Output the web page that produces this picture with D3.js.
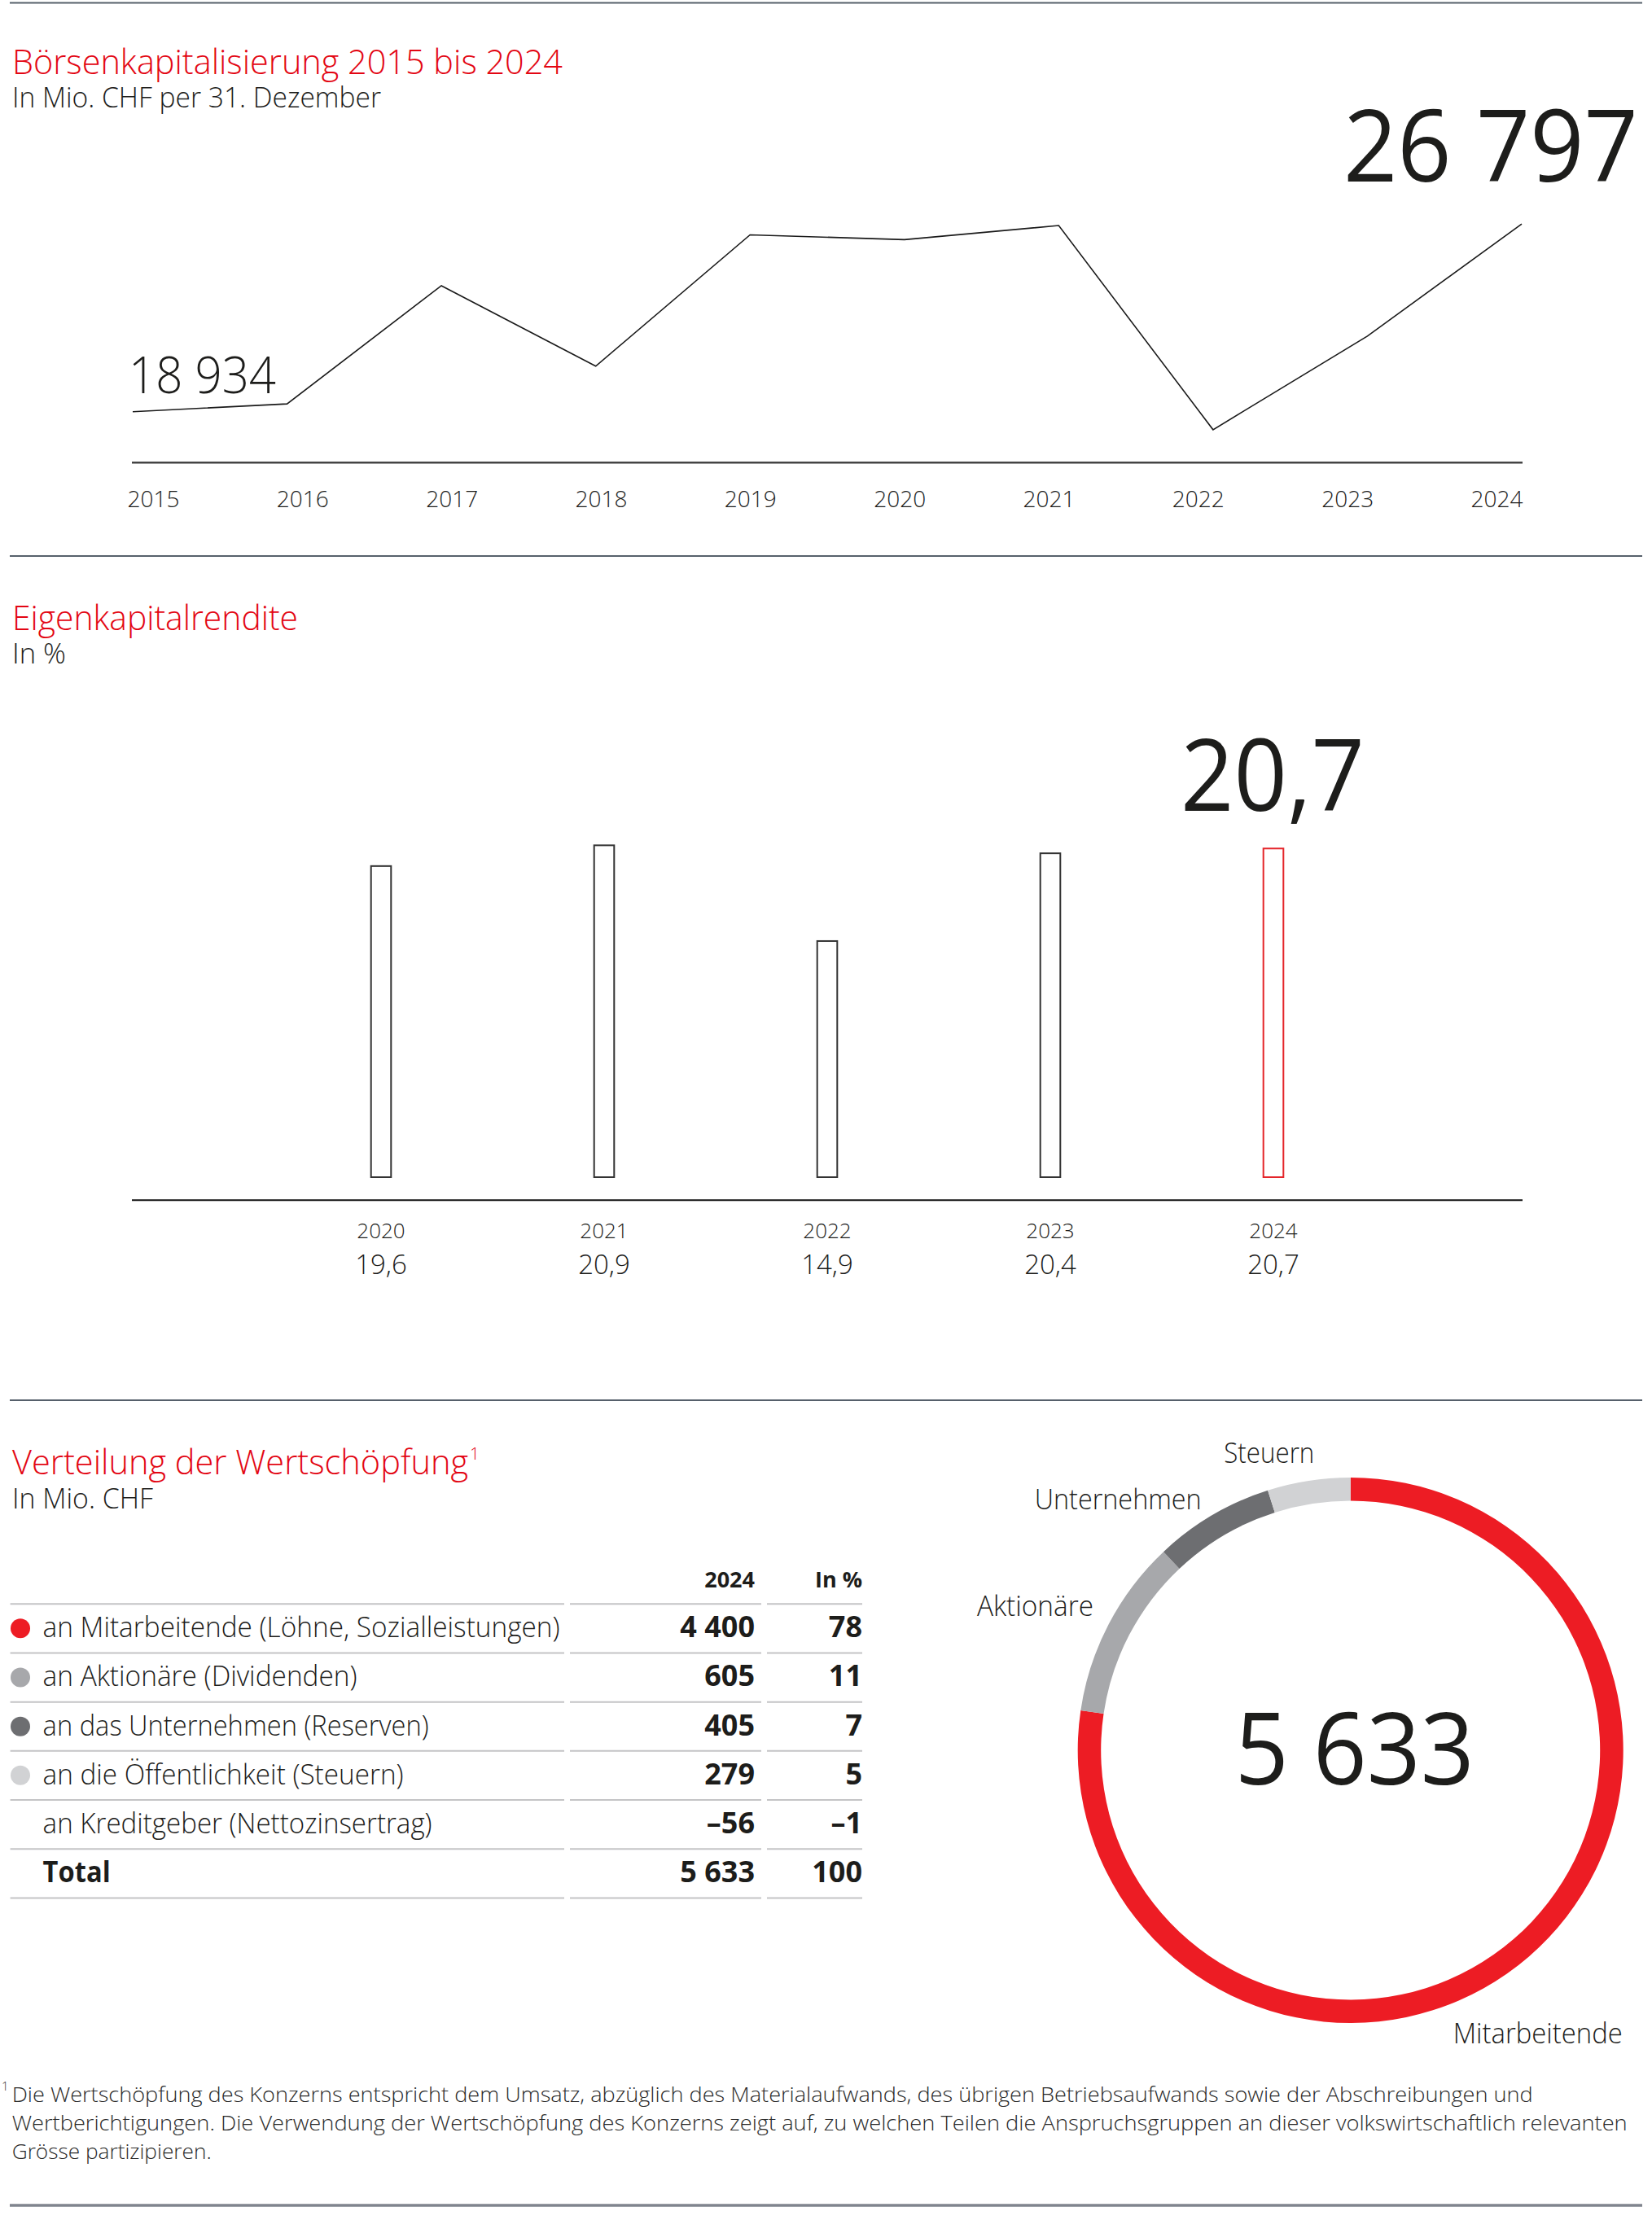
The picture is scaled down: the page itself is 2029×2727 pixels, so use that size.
<!DOCTYPE html>
<html><head><meta charset="utf-8">
<script src="https://cdn.jsdelivr.net/npm/d3@7"></script>
<style>
html,body{margin:0;padding:0;background:#fff;}
svg{display:block;}
text{font-family:"Open Sans","Noto Sans",sans-serif;}
</style></head><body>
<svg id="c" width="2029" height="2727"></svg>
<script>
// ---------- DATA ----------
const capTitle = "Börsenkapitalisierung 2015 bis 2024";
const capSubtitle = "In Mio. CHF per 31. Dezember";
const capYears = ["2015","2016","2017","2018","2019","2020","2021","2022","2023","2024"];
const capValues = [18934, 19260, 24210, 20840, 26340, 26140, 26730, 18180, 22100, 26797];

const roeTitle = "Eigenkapitalrendite";
const roeSubtitle = "In %";
const roeYears = ["2020","2021","2022","2023","2024"];
const roeValues = [19.6, 20.9, 14.9, 20.4, 20.7];

const vaTitle = "Verteilung der Wertschöpfung";
const vaSubtitle = "In Mio. CHF";
const vaHeaders = ["2024", "In %"];
const vaLabels = ["an Mitarbeitende (Löhne, Sozialleistungen)", "an Aktionäre (Dividenden)", "an das Unternehmen (Reserven)", "an die Öffentlichkeit (Steuern)", "an Kreditgeber (Nettozinsertrag)"];
const vaValues = [4400, 605, 405, 279, -56];
const vaPercent = [78, 11, 7, 5, -1];
const vaTotalLabel = "Total";
const vaTotal = 5633;
const vaTotalPercent = 100;

const donutLabels = ["Mitarbeitende", "Aktionäre", "Unternehmen", "Steuern"];
const donutValues = [4400, 605, 405, 279];
const donutColors = ["#ed1c24", "#a7a8ab", "#6d6e71", "#d1d2d4"];

const footnoteLines = [
  "Die Wertschöpfung des Konzerns entspricht dem Umsatz, abzüglich des Materialaufwands, des übrigen Betriebsaufwands sowie der Abschreibungen und",
  "Wertberichtigungen. Die Verwendung der Wertschöpfung des Konzerns zeigt auf, zu welchen Teilen die Anspruchsgruppen an dieser volkswirtschaftlich relevanten",
  "Grösse partizipieren."
];

// ---------- HELPERS ----------
const RED = "#e30613", INK = "#1d1d1b";
const loc = d3.formatLocale({decimal: ",", thousands: "\u00a0", grouping: [3], currency: ["", ""], minus: "–"});
const fInt = loc.format(",d");
const f1 = loc.format(",.1f");
const svg = d3.select("#c");

function txt(g, x, y, s, size, o = {}) {
  const t = g.append("text").attr("x", x).attr("y", y).text(s)
    .attr("font-size", size)
    .attr("font-weight", o.weight || 300)
    .attr("fill", o.fill || INK)
    .attr("text-anchor", o.anchor || "start");
  if (o.w) t.attr("textLength", o.w).attr("lengthAdjust", "spacingAndGlyphs");
  return t;
}

// section rules
[3.5, 683, 1720].forEach(y => svg.append("line").attr("x1", 12).attr("x2", 2017).attr("y1", y).attr("y2", y)
  .attr("stroke", "#56606b").attr("stroke-width", 2));
svg.append("line").attr("x1", 12).attr("x2", 2017).attr("y1", 2709).attr("y2", 2709)
  .attr("stroke", "#80858e").attr("stroke-width", 3.5);

// ---------- SECTION 1: line chart ----------
const g1 = svg.append("g");
txt(g1, 15, 91, capTitle, 42, {fill: RED, w: 676});
txt(g1, 15, 132, capSubtitle, 35, {w: 453});

const xC = d3.scalePoint().domain(capYears).range([163, 1869]);
const xCLab = d3.scalePoint().domain(capYears).range([188.5, 1838.5]);
const yC = d3.scaleLinear().domain([16800, 26800]).range([568.3, 275.0]);

g1.append("line").attr("x1", 162).attr("x2", 1870).attr("y1", 568.3).attr("y2", 568.3)
  .attr("stroke", "#444").attr("stroke-width", 2.5);

const capData = capYears.map((y, i) => ({year: y, value: capValues[i]}));
g1.append("path").datum(capData)
  .attr("d", d3.line().x(d => xC(d.year)).y(d => yC(d.value)))
  .attr("fill", "none").attr("stroke", "#1a1a1a").attr("stroke-width", 1.6).attr("stroke-linejoin", "miter");

g1.selectAll("text.yr").data(capYears).join("text").attr("class", "yr")
  .attr("x", d => xCLab(d)).attr("y", 623).attr("text-anchor", "middle")
  .attr("font-size", 28).attr("font-weight", 300).attr("fill", INK).text(d => d);

const first = capData[0], last = capData[capData.length - 1];
txt(g1, xC(first.year) - 5, yC(first.value) - 23, fInt(first.value), 63, {w: 181});
txt(g1, xC(last.year) + 143, yC(last.value) - 52, fInt(last.value), 122, {anchor: "end", weight: 400, w: 362});

// ---------- SECTION 2: bar chart ----------
const g2 = svg.append("g");
txt(g2, 15, 774, roeTitle, 42, {fill: RED, w: 351});
txt(g2, 15, 815, roeSubtitle, 35, {w: 66});

const xB = d3.scalePoint().domain(roeYears).range([468, 1564]);
const yB = d3.scaleLinear().domain([0, 25]).range([1447, 957]);
const bw = 26.6;
const roeData = roeYears.map((y, i) => ({year: y, value: roeValues[i]}));

g2.append("line").attr("x1", 162).attr("x2", 1870).attr("y1", 1474.3).attr("y2", 1474.3)
  .attr("stroke", "#111").attr("stroke-width", 2);

g2.selectAll("rect.bar").data(roeData).join("rect").attr("class", "bar")
  .attr("x", d => xB(d.year) - bw / 2 + 1)
  .attr("width", bw - 2)
  .attr("y", d => yB(d.value) + 1)
  .attr("height", d => yB(0) - yB(d.value) - 2)
  .attr("fill", "none")
  .attr("stroke", (d, i) => i === roeData.length - 1 ? "#e4252a" : "#333")
  .attr("stroke-width", 2);

g2.selectAll("text.by").data(roeData).join("text").attr("class", "by")
  .attr("x", d => xB(d.year)).attr("y", 1521).attr("text-anchor", "middle")
  .attr("font-size", 26).attr("font-weight", 300).attr("fill", INK).text(d => d.year);
g2.selectAll("text.bv").data(roeData).join("text").attr("class", "bv")
  .attr("x", d => xB(d.year)).attr("y", 1565).attr("text-anchor", "middle")
  .attr("font-size", 33).attr("font-weight", 300).attr("fill", INK).text(d => f1(d.value));

const lastB = roeData[roeData.length - 1];
txt(g2, xB(lastB.year) - 1, 996, f1(lastB.value), 122, {anchor: "middle", weight: 400, w: 226});

// ---------- SECTION 3: table ----------
const g3 = svg.append("g");
txt(g3, 15, 1811, vaTitle, 42, {fill: RED, w: 560});
txt(g3, 577, 1793, "1", 21, {fill: RED});
txt(g3, 15, 1853, vaSubtitle, 35, {w: 173});

const colRight = [927, 1059];
vaHeaders.forEach((h, i) => txt(g3, colRight[i], 1950, h, 27, {anchor: "end", weight: 700}));

const rows = vaLabels.map((l, i) => ({label: l, value: vaValues[i], pct: vaPercent[i], color: donutColors[i] || null, bold: false}));
rows.push({label: vaTotalLabel, value: vaTotal, pct: vaTotalPercent, color: null, bold: true});

const yR = d3.scaleBand().domain(d3.range(rows.length)).range([1970.3, 2331.4]);
const segs = [[12.6, 693], [700, 935], [942, 1059]];
d3.range(rows.length + 1).forEach(k => {
  const y = 1970.3 + k * yR.step();
  segs.forEach(s => g3.append("line").attr("x1", s[0]).attr("x2", s[1]).attr("y1", y).attr("y2", y)
    .attr("stroke", "#c4c4c6").attr("stroke-width", 2));
});
const labelW = [635, 386, 474, 443, 478, 83];
rows.forEach((r, i) => {
  const y0 = yR(i);
  if (r.color) g3.append("circle").attr("cx", 25).attr("cy", y0 + 30).attr("r", 12).attr("fill", r.color);
  txt(g3, 52.6, y0 + 41, r.label, 35, {weight: r.bold ? 700 : 300, w: labelW[i]});
  txt(g3, colRight[0], y0 + 41, fInt(r.value), 36, {anchor: "end", weight: 700});
  txt(g3, colRight[1], y0 + 41, fInt(r.pct), 36, {anchor: "end", weight: 700});
});

// ---------- SECTION 3: donut ----------
const cx = 1658.7, cy = 2150;
const gd = svg.append("g").attr("transform", `translate(${cx},${cy})`);
const pie = d3.pie().sort(null).value(d => d.value);
const arc = d3.arc().innerRadius(306.5).outerRadius(335);
const dData = donutLabels.map((l, i) => ({label: l, value: donutValues[i], color: donutColors[i]}));
gd.selectAll("path").data(pie(dData)).join("path")
  .attr("d", arc).attr("fill", d => d.data.color);

// label placement (polar, degrees clockwise from top)
const labelPolar = [[147.4, 427], [293.1, 421], [316, 411], [344.2, 367]];
const labelW2 = [208, 143, 205, 111];
dData.forEach((d, i) => {
  const p = d3.pointRadial(labelPolar[i][0] * Math.PI / 180, labelPolar[i][1]);
  txt(gd, p[0], p[1], d.label, 34, {anchor: "middle", w: labelW2[i]});
});
txt(gd, 5, 42, fInt(vaTotal), 122, {anchor: "middle", weight: 400, w: 294});

// ---------- FOOTNOTE ----------
const gf = svg.append("g");
txt(gf, 2, 2568, "1", 15, {fill: "#333"});
const fnW = [1868, 1984, 245];
footnoteLines.forEach((l, i) => txt(gf, 14.7, 2582 + i * 35, l, 26, {fill: "#2b2b2b", w: fnW[i]}));
</script>
</body></html>
